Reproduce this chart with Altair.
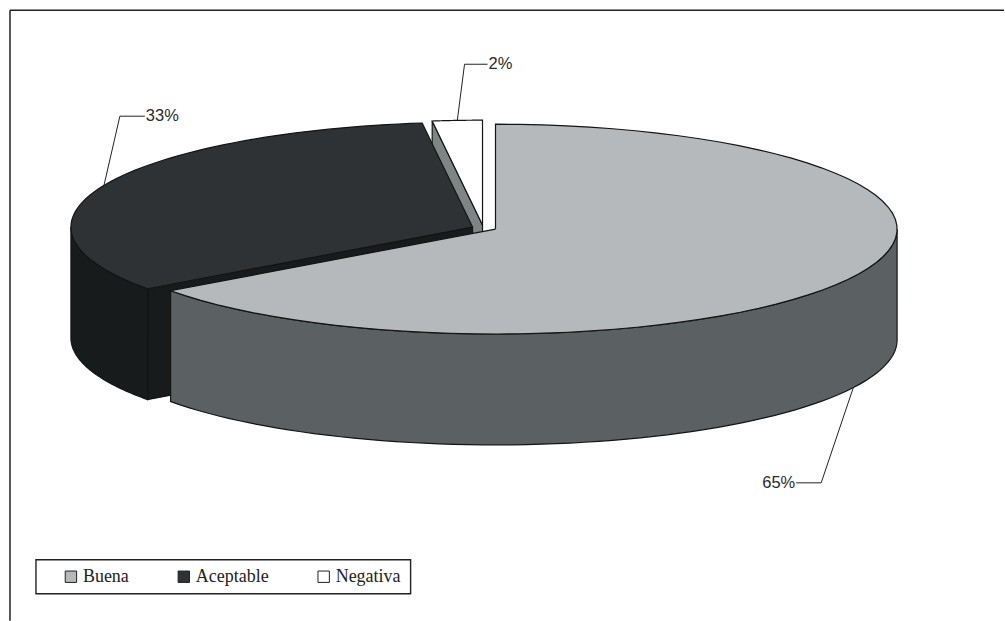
import numpy as np
import pandas as pd
import altair as alt

# Chart values
categories = ["Buena", "Aceptable", "Negativa"]
percentages = [65, 33, 2]
labels = ["65%", "33%", "2%"]

# Colours of the top faces and of the side walls
top_colors = ["#b5b9bb", "#2e3234", "#ffffff"]
wall_colors = ["#5b6062", "#181b1c", "#7f8484"]

W, H = 1005, 621
RX, RY, DEPTH = 402, 105, 111
# Pie centre of each slice, including its pulled-out offset
centers = [(496, 229), (473, 227), (483, 225)]
OUTLINE = "#141414"


def point(i, angle, drop=0.0):
    """Position on slice i's ellipse; angle in degrees clockwise from 12 o'clock."""
    cx, cy = centers[i]
    a = np.radians(angle)
    return cx + RX * np.sin(a), cy - RY * np.cos(a) + drop


def arc(i, start, end, drop=0.0, n=70):
    return [point(i, t, drop) for t in np.linspace(start, end, n)]


# Slice extents, clockwise from the top
edges = np.concatenate([[0], np.cumsum(percentages) * 3.6])
starts, ends = edges[:-1], edges[1:]
mids = (starts + ends) / 2


def polygon(part, pts):
    pts = list(pts) + [pts[0]]
    return pd.DataFrame(
        {"part": part, "x": [p[0] for p in pts], "y": [p[1] for p in pts], "o": range(len(pts))}
    )


x_enc = alt.X("x:Q", axis=None, scale=alt.Scale(domain=[0, W], range=[0, W], nice=False, zero=False))
y_enc = alt.Y("y:Q", axis=None, scale=alt.Scale(domain=[0, H], range=[0, H], nice=False, zero=False))


def solid(df, color):
    return (
        alt.Chart(df)
        .mark_line(fill=color, stroke=OUTLINE, strokeWidth=1.2, strokeJoin="miter")
        .encode(x=x_enc, y=y_enc, order="o:Q")
    )


# Cut face of the small slice, seen on its left side
cx2, cy2 = centers[2]
corner = point(2, starts[2])
neg_face = polygon(
    "neg_face",
    [corner, (cx2, cy2), (cx2, cy2 + DEPTH), (corner[0], corner[1] + DEPTH)],
)

# Cut face of the middle slice, mostly hidden by the large one
cx1, cy1 = centers[1]
corner = point(1, starts[1])
mid_face = polygon(
    "mid_face",
    [corner, (cx1, cy1), (cx1, cy1 + DEPTH), (corner[0], corner[1] + DEPTH)],
)

# Outer walls
mid_wall = polygon("mid_wall", arc(1, starts[1], 270) + arc(1, 270, starts[1], DEPTH))
big_wall = polygon("big_wall", arc(0, 90, ends[0]) + arc(0, ends[0], 90, DEPTH))

# Top faces, carrying the legend
tops = pd.concat(
    [
        polygon(categories[i], [centers[i]] + arc(i, starts[i], ends[i]))
        for i in (2, 1, 0)
    ]
)
top_layer = (
    alt.Chart(tops)
    .mark_line(stroke=OUTLINE, strokeWidth=1.2, strokeJoin="miter")
    .encode(
        x=x_enc,
        y=y_enc,
        order="o:Q",
        fill=alt.Fill(
            "part:N",
            scale=alt.Scale(domain=categories, range=top_colors),
            legend=alt.Legend(
                title=None,
                orient="none",
                legendX=62,
                legendY=568,
                direction="horizontal",
                columns=3,
                symbolType="square",
                symbolSize=130,
                symbolStrokeColor="#222222",
                symbolStrokeWidth=1,
                symbolOpacity=1,
                labelFont="Liberation Serif",
                labelFontSize=18,
                labelColor="#222222",
                labelOffset=3,
                columnPadding=46,
                padding=0,
            ),
        ),
    )
)

# Box behind the legend entries
legend_box = (
    alt.Chart(pd.DataFrame({"v": [0]}))
    .mark_rect(fill="#ffffff", stroke="#222222", strokeWidth=1.4)
    .encode(x=alt.value(36), x2=alt.value(411), y=alt.value(560), y2=alt.value(594))
)

# Leader lines: anchored on the slice edge, with an elbow towards the label
anchors = [point(0, mids[0], DEPTH), point(1, mids[1]), point(2, mids[2])]
elbows = [(822, 483), (120, 116), (465, 64)]
tails = [(797, 483), (145, 116), (488, 64)]
aligns = ["right", "left", "left"]
leader_rows = []
text_rows = []
for i in range(3):
    for k, p in enumerate([anchors[i], elbows[i], tails[i]]):
        leader_rows.append({"part": categories[i], "x": p[0], "y": p[1], "o": k})
    text_rows.append(
        {"x": tails[i][0] + (-1 if aligns[i] == "right" else 1), "y": tails[i][1], "t": labels[i], "a": aligns[i]}
    )
leaders = (
    alt.Chart(pd.DataFrame(leader_rows))
    .mark_line(stroke="#222222", strokeWidth=1)
    .encode(x=x_enc, y=y_enc, order="o:Q", detail="part:N")
)
texts = [
    alt.Chart(pd.DataFrame([r]))
    .mark_text(
        align=r["a"], baseline="middle", font="Liberation Sans", fontSize=16.5, color="#2a2a2a"
    )
    .encode(x=x_enc, y=y_enc, text="t:N")
    for r in text_rows
]

# Outer frame: top and left sides only
frame_top = alt.Chart(pd.DataFrame({"v": [0]})).mark_rule(color="#222222", strokeWidth=1.5).encode(
    x=alt.value(10), x2=alt.value(W), y=alt.value(10)
)
frame_left = alt.Chart(pd.DataFrame({"v": [0]})).mark_rule(color="#222222", strokeWidth=1.5).encode(
    x=alt.value(10), y=alt.value(10), y2=alt.value(H)
)

chart = (
    alt.layer(
        frame_top,
        frame_left,
        legend_box,
        solid(neg_face, wall_colors[2]),
        solid(mid_face, wall_colors[1]),
        solid(mid_wall, wall_colors[1]),
        solid(big_wall, wall_colors[0]),
        top_layer,
        leaders,
        *texts,
    )
    .properties(width=W, height=H, padding=0, background="#ffffff")
    .configure_view(stroke=None)
)

chart.save("out.html", embed_options={"renderer": "svg", "actions": False})
